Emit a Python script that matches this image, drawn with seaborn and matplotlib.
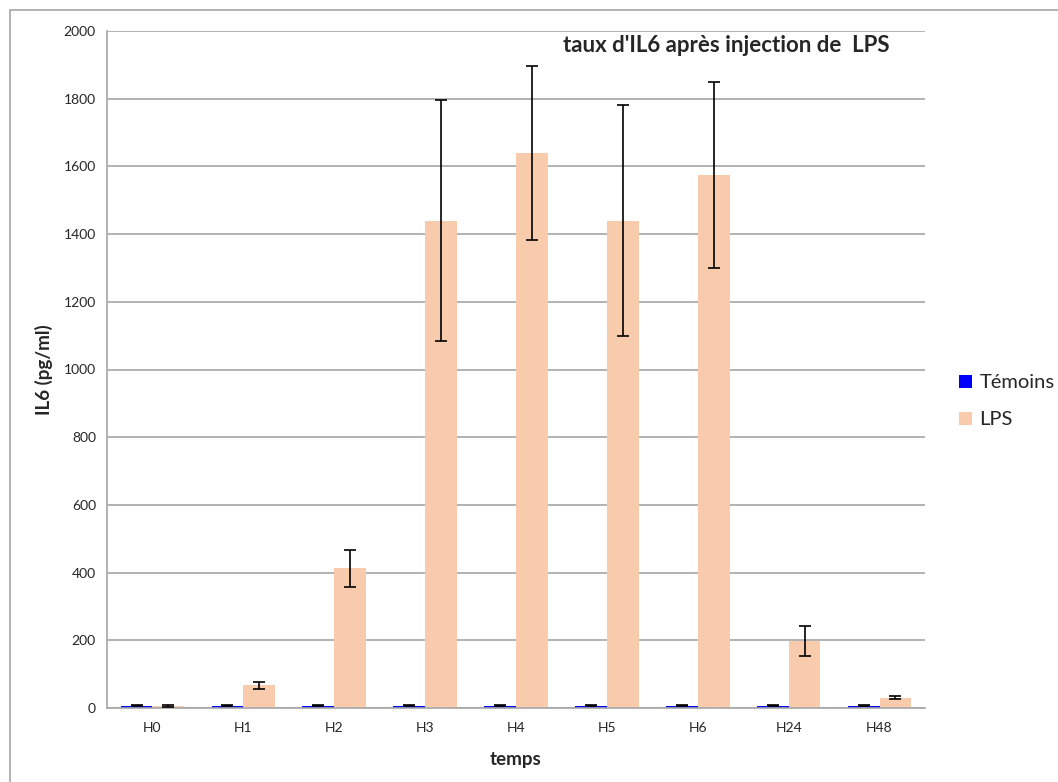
import matplotlib
matplotlib.use("Agg")
import matplotlib.pyplot as plt
import seaborn as sns
import pandas as pd
import numpy as np
from matplotlib.patches import Rectangle

categories = ["H0", "H1", "H2", "H3", "H4", "H5", "H6", "H24", "H48"]
temoins = [7, 7, 7, 7, 7, 7, 7, 7, 7]
temoins_err = [1.5, 1.5, 1.5, 1.5, 1.5, 1.5, 1.5, 1.5, 1.5]
lps = [6, 67, 413, 1440, 1640, 1440, 1575, 197, 30]
lps_err = [2, 11, 55, 356, 257, 342, 275, 44, 4]
series = ["Témoins", "LPS"]
colors = ["#0000FF", "#F8CBAD"]

df = pd.DataFrame({
    "temps": categories * 2,
    "val": temoins + lps,
    "serie": [series[0]] * len(categories) + [series[1]] * len(categories),
})

sns.set_style("white")
plt.rcParams["font.family"] = ["Lato", "DejaVu Sans"]

fig = plt.figure(figsize=(10.58, 7.82), dpi=100)
ax = fig.add_axes([107 / 1058, 74 / 782, 818 / 1058, 677 / 782])

sns.barplot(data=df, x="temps", y="val", hue="serie", order=categories,
            hue_order=series, palette=colors, width=0.7, errorbar=None,
            saturation=1, linewidth=0, ax=ax, legend=True)

errs = [temoins_err, lps_err]
vals = [temoins, lps]
for cont, v, e in zip(ax.containers, vals, errs):
    xs = [p.get_x() + p.get_width() / 2 for p in cont.patches]
    ax.errorbar(xs, v, yerr=e, fmt="none", ecolor="black", elinewidth=1.2,
                capsize=4, capthick=1.2, zorder=5)

ax.set_ylim(0, 2000)
ax.set_xlim(-0.5, len(categories) - 0.5)
ax.set_yticks(np.arange(0, 2001, 200))
ax.yaxis.grid(True, color="#a6a6a6", linewidth=1.2)
ax.set_axisbelow(True)
for s in ["top", "right"]:
    ax.spines[s].set_visible(False)
for s in ["left", "bottom"]:
    ax.spines[s].set_color("#a6a6a6")
    ax.spines[s].set_linewidth(1.2)
ax.tick_params(axis="y", labelsize=10, pad=8, length=0)
ax.tick_params(axis="x", labelsize=10, pad=10, length=0)

ax.set_xlabel("temps", fontsize=13.5, fontweight="bold", labelpad=12)
ax.set_ylabel("IL6 (pg/ml)", fontsize=13.5, fontweight="bold", labelpad=8)
ax.text(0.957, 0.978, "taux d'IL6 après injection de  LPS", transform=ax.transAxes,
        ha="right", va="center", fontsize=16, fontweight="bold")

h, l = ax.get_legend_handles_labels()
ax.legend(h, l, loc="center left", bbox_to_anchor=(1.02, 0.453), frameon=False,
          fontsize=14.5, handlelength=0.6, handleheight=0.6, labelspacing=1.0,
          handletextpad=0.4)

fig.patches.append(Rectangle((10 / 1058, -0.01), 1.02, 1 - 10 / 782 + 0.01,
                             transform=fig.transFigure, fill=False,
                             edgecolor="#a6a6a6", linewidth=1.2))

fig.savefig("out.png", dpi=100)
